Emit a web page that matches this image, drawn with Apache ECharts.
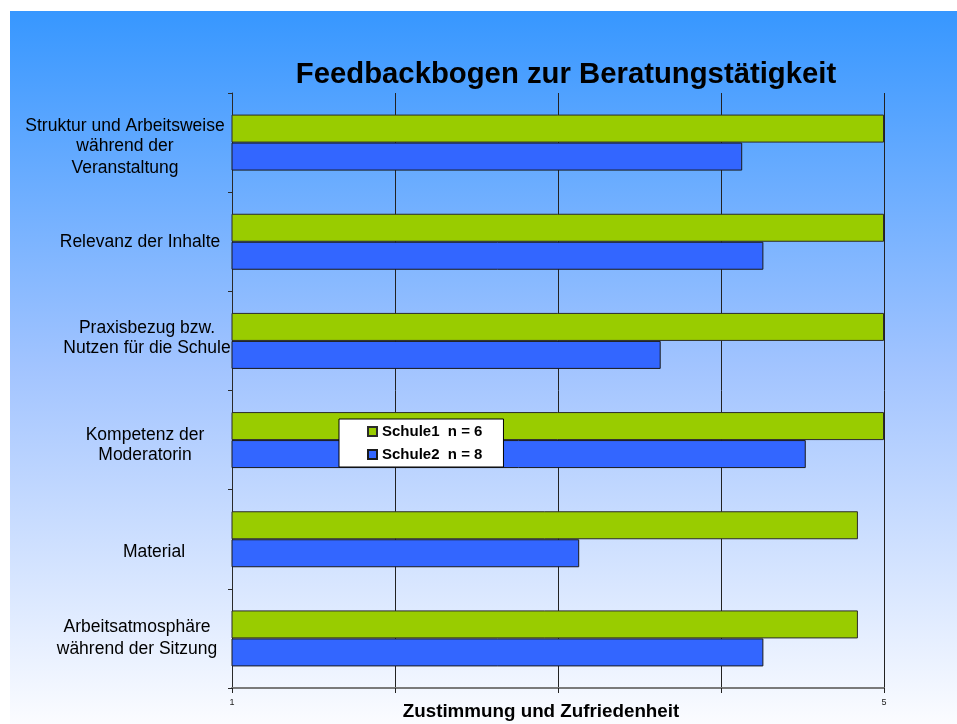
<!DOCTYPE html>
<html>
<head>
<meta charset="utf-8">
<script src="https://cdn.jsdelivr.net/npm/echarts@6/dist/echarts.min.js"></script>
<style>
  html, body { margin: 0; padding: 0; background: #ffffff; }
  #chart { width: 957px; height: 724px; }
</style>
</head>
<body>
<div id="chart"></div>
<script>
// Rating categories (top to bottom)
const categories = [
  'Struktur und Arbeitsweise\nwährend der\nVeranstaltung',
  'Relevanz der Inhalte',
  'Praxisbezug bzw.\nNutzen für die Schule',
  'Kompetenz der\nModeratorin',
  'Material',
  'Arbeitsatmosphäre\nwährend der Sitzung'
];
// Width of the centring box for each label; its right edge touches the axis
const labelBoxWidth = [214, 184, 170, 174, 156, 190];
// Vertical nudge of each label block (px, positive = down)
const labelNudge = [4, 0, -2, 4, 11, 0];

const schule1Name = 'Schule1  n = 6';
const schule2Name = 'Schule2  n = 8';
const schule1 = [5, 5, 5, 5, 4.84, 4.84];
const schule2 = [4.13, 4.26, 3.63, 4.52, 3.13, 4.26];

const axisMin = 1;
const axisMax = 5;
const shownTicks = [1, 5];

const font = '"Liberation Sans", Arial, Helvetica, sans-serif';
const LINE_H = 22;

// Rich styles: plain line, and first/last lines whose taller box pushes the block
const rich = {};
labelBoxWidth.forEach((w, i) => {
  const base = { width: w, align: 'center', fontFamily: font, fontSize: 17.5, color: '#000' };
  const d = labelNudge[i];
  rich['m' + i] = Object.assign({}, base, { lineHeight: LINE_H });
  rich['f' + i] = Object.assign({}, base, d > 0
    ? { lineHeight: LINE_H + 2 * d, verticalAlign: 'bottom' }
    : { lineHeight: LINE_H });
  rich['l' + i] = Object.assign({}, base, d < 0
    ? { lineHeight: LINE_H - 2 * d, verticalAlign: 'top' }
    : { lineHeight: LINE_H });
});

function formatLabel(value, index) {
  const lines = value.split('\n');
  const d = labelNudge[index];
  return lines.map((line, k) => {
    let key = 'm';
    if (k === 0 && d > 0) key = 'f';
    else if (k === lines.length - 1 && d < 0) key = 'l';
    return '{' + key + index + '|' + line + '}';
  }).join('\n');
}

const chart = echarts.init(document.getElementById('chart'), null, { renderer: 'canvas' });

chart.setOption({
  animation: false,
  backgroundColor: '#ffffff',
  graphic: [{
    type: 'rect',
    z: -10,
    silent: true,
    shape: { x: 10, y: 11, width: 947, height: 713 },
    style: {
      fill: new echarts.graphic.LinearGradient(0, 0, 0, 1, [
        { offset: 0, color: '#3797FF' },
        { offset: 0.5, color: '#A2C4FF' },
        { offset: 1, color: '#FBFCFF' }
      ])
    }
  }],
  title: {
    text: 'Feedbackbogen zur Beratungstätigkeit',
    left: 561,
    textAlign: 'center',
    top: 55,
    textStyle: { fontFamily: font, fontWeight: 'bold', fontSize: 29.3, color: '#000' }
  },
  legend: {
    orient: 'vertical',
    left: 339,
    top: 419,
    padding: [5, 21, 5, 28],
    itemGap: 8,
    itemWidth: 9,
    itemHeight: 9,
    backgroundColor: '#ffffff',
    borderColor: '#000000',
    borderWidth: 1,
    borderRadius: 0,
    icon: 'rect',
    textStyle: { fontFamily: font, fontWeight: 'bold', fontSize: 15, color: '#000' },
    data: [schule1Name, schule2Name]
  },
  grid: { left: 232, right: 73, top: 93, bottom: 36, containLabel: false, outerBoundsMode: 'none' },
  xAxis: {
    type: 'value',
    min: axisMin,
    max: axisMax,
    interval: 1,
    name: 'Zustimmung und Zufriedenheit',
    nameLocation: 'middle',
    nameGap: 14,
    nameMoveOverlap: false,
    nameTextStyle: {
      fontFamily: font, fontWeight: 'bold', fontSize: 18.8, color: '#000',
      padding: [0, 34, 0, 0]
    },
    axisLine: { show: true, lineStyle: { color: '#7a7a7a', width: 2 } },
    axisTick: { show: true, length: 5, lineStyle: { color: '#222' } },
    axisLabel: {
      fontFamily: font, fontSize: 9, color: '#222', margin: 10,
      formatter: v => (shownTicks.indexOf(v) >= 0 ? String(v) : '')
    },
    splitLine: { show: true, lineStyle: { color: '#222', width: 1 } }
  },
  yAxis: {
    type: 'category',
    inverse: true,
    data: categories,
    axisLine: { show: true, lineStyle: { color: '#2a2a2a', width: 1 } },
    axisTick: { show: true, length: 4, alignWithLabel: false, lineStyle: { color: '#2a2a2a' } },
    axisLabel: {
      fontFamily: font, fontSize: 17.5, color: '#000', lineHeight: LINE_H,
      align: 'right', margin: 0, interval: 0,
      formatter: formatLabel,
      rich: rich
    },
    splitLine: { show: false }
  },
  series: [
    {
      name: schule1Name,
      type: 'bar',
      data: schule1,
      barWidth: 28,
      barGap: '0%',
      itemStyle: { color: '#99CC00', borderColor: '#2b2b2b', borderWidth: 1 }
    },
    {
      name: schule2Name,
      type: 'bar',
      data: schule2,
      barWidth: 28,
      barGap: '0%',
      itemStyle: { color: '#3366FF', borderColor: '#1a1a1a', borderWidth: 1 }
    }
  ]
});
</script>
</body>
</html>
